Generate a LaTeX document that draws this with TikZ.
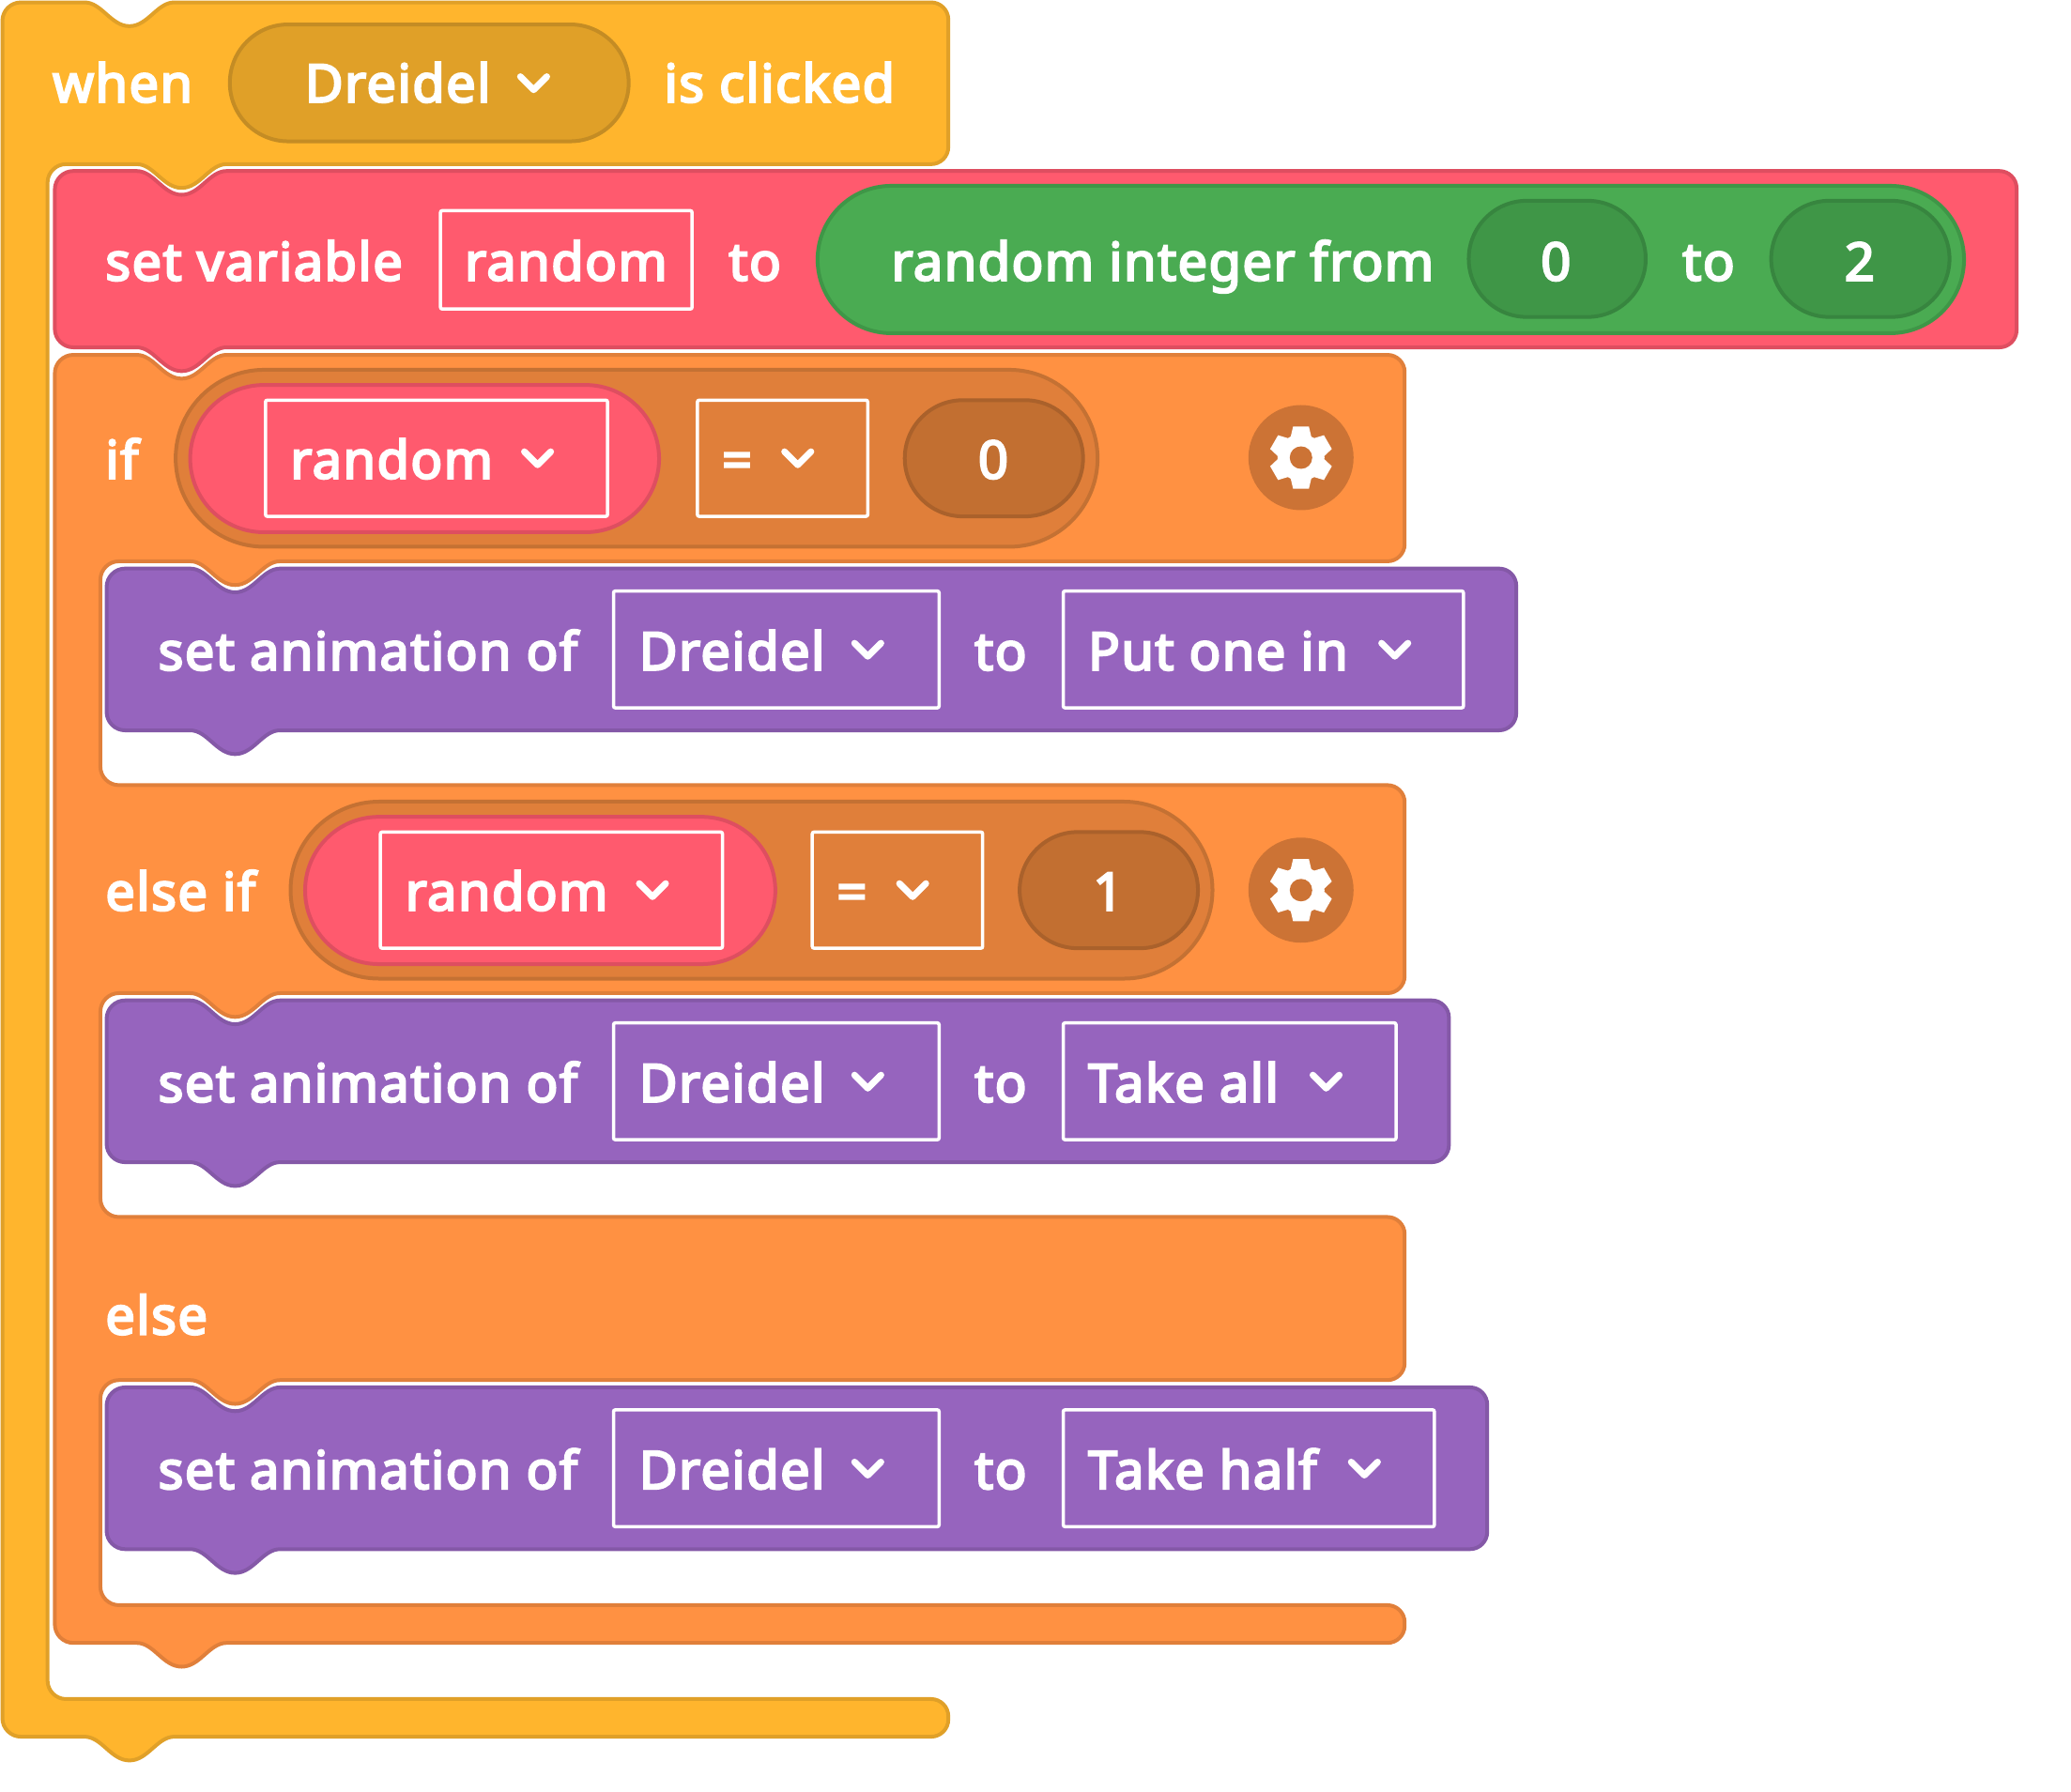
\documentclass[tikz,border=0pt]{standalone}
\usepackage{fontspec}
\setmainfont{Noto Sans}[FakeBold=4,LetterSpace=2.5]
\definecolor{yelF}{HTML}{FFB52D}\definecolor{yelS}{HTML}{E0A028}
\definecolor{yelD}{HTML}{E0A028}\definecolor{yelE}{HTML}{C48C24}
\definecolor{redF}{HTML}{FF5A6E}\definecolor{redS}{HTML}{DE4E60}
\definecolor{oraF}{HTML}{FF9142}\definecolor{oraS}{HTML}{E07F3A}
\definecolor{oraD}{HTML}{E07F3A}\definecolor{oraE}{HTML}{C47133}
\definecolor{oraG}{HTML}{C26F31}\definecolor{oraH}{HTML}{AA612B}
\definecolor{gearC}{HTML}{CC7335}
\definecolor{purF}{HTML}{9664BE}\definecolor{purS}{HTML}{8458A7}
\definecolor{greF}{HTML}{4AAB52}\definecolor{greS}{HTML}{3F9647}
\definecolor{greD}{HTML}{3F9647}\definecolor{greE}{HTML}{37853F}
\newcommand\nR[2]{-- (#1+34,#2) .. controls (#1+21,#2) and (#1+14,#2+18) .. (#1,#2+18) .. controls (#1-14,#2+18) and (#1-21,#2) .. (#1-34,#2)}
\newcommand\nL[2]{-- (#1-34,#2) .. controls (#1-21,#2) and (#1-14,#2+18) .. (#1,#2+18) .. controls (#1+14,#2+18) and (#1+21,#2) .. (#1+34,#2)}
\newcommand\Crn[7]{-- (#1+#3*#7,#2+#4*#7) .. controls (#1+0.45*#3*#7,#2+0.45*#4*#7) and (#1+0.45*#5*#7,#2+0.45*#6*#7) .. (#1+#5*#7,#2+#6*#7)}
\newcommand\cTL[2]{\Crn{#1}{#2}{0}{1}{1}{0}{14}}
\newcommand\cTR[2]{\Crn{#1}{#2}{-1}{0}{0}{1}{13}}
\newcommand\cBR[2]{\Crn{#1}{#2}{0}{-1}{-1}{0}{13}}
\newcommand\cBL[2]{\Crn{#1}{#2}{1}{0}{0}{-1}{14}}
\newcommand\cIT[2]{\Crn{#1}{#2}{1}{0}{0}{1}{14}}
\newcommand\cIB[2]{\Crn{#1}{#2}{0}{-1}{1}{0}{14}}
\newcommand\pill[6]{% x1 y1 x2 y2 fill stroke
  \pgfmathsetmacro\pr{(#4-#2)/2*1.4069}
  \draw[line width=4pt,fill=#5,draw=#6,rounded corners=\pr pt] (#1,#2) rectangle (#3,#4);}
\newcommand\chev[2]{\draw[white,line width=7pt,line cap=round,line join=round] (#1-10,#2-6) -- (#1,#2+4) -- (#1+10,#2-6);}
\newcommand\gear[2]{%
  \fill[gearC] (#1,#2) circle (56pt);
  \foreach \a in {0,60,120,180,240,300}{
    \fill[white,shift={(#1,#2)},rotate=\a] (-8,-15) -- (-6,-23.5) -- (6,-23.5) -- (8,-15) -- cycle;}
  \fill[white] (#1,#2) circle (25pt);
  \fill[gearC] (#1,#2) circle (12pt);}
\newcommand\purple[2]{% top, right
  \draw[blk,fill=purF,draw=purS] (80.7,#1+30) \cTL{80.7}{#1} \nL{178}{#1} \cTR{#2}{#1} \cBR{#2}{#1+122.5} \nR{178}{#1+122.5} \cBL{80.7}{#1+122.5} -- cycle;}
\tikzset{
  lab/.style={anchor=base west,text=white,inner sep=0pt,xshift=-0.4pt,yshift=1pt,font=\fontsize{56}{60}\selectfont},
  cen/.style={anchor=base,text=white,inner sep=0pt,yshift=1pt,font=\fontsize{56}{60}\selectfont},
  blk/.style={line width=4pt,line join=round},
  fieldbox/.style={draw=white,line width=3.5pt,rounded corners=2pt},
}
\begin{document}
\begin{tikzpicture}[x=1.4069pt,y=-1.4069pt]
\useasboundingbox (0,0) rectangle (1568,1356.2);
% yellow
\draw[blk,fill=yelF,draw=yelS] (1.8,60) \cTL{1.8}{1.8} \nL{98}{1.8} \cTR{718}{1.8} \cBR{718}{124.3} \nR{137.5}{124.3} \cIT{36}{124.3} \cIB{36}{1286.5} \cTR{718}{1286.5} \cBR{718}{1315} \nR{98}{1315} \cBL{1.8}{1315} -- cycle;
\pill{174}{18.5}{476}{107}{yelD}{yelE}
\node[lab] (when) at (40,78) {when};
\node[lab] (dre0) at (231,78) {Dreidel};
\chev{404}{64}
\node[lab] (clicked) at (503,78) {is clicked};
% orange
\draw[blk,fill=oraF,draw=oraS] (41.5,300) \cTL{41.5}{268.7} \nL{137.5}{268.7} \cTR{1063.5}{268.7} \cBR{1063.5}{425} \nR{178}{425} \cIT{76}{425} \cIB{76}{594.5} \cTR{1063.5}{594.5} \cBR{1063.5}{752} \nR{178}{752} \cIT{76}{752} \cIB{76}{921.5} \cTR{1063.5}{921.5} \cBR{1063.5}{1045} \nR{178}{1045} \cIT{76}{1045} \cIB{76}{1215.4} \cTR{1063.5}{1215.4} \cBR{1063.5}{1244} \nR{137.5}{1244} \cBL{41.5}{1244} -- cycle;
% red
\draw[blk,fill=redF,draw=redS] (41.5,160) \cTL{41.5}{129.5} \nL{137.5}{129.5} \cTR{1526.8}{129.5} \cBR{1526.8}{263} \nR{137.5}{263} \cBL{41.5}{263} -- cycle;
\node[lab] (setv) at (80,213) {set variable};
\draw[fieldbox] (333.5,159.5) rectangle (524,234);
\node[lab] (rnd0) at (352,213) {random};
\node[lab] (to0) at (552,213) {to};
\pill{619}{140.7}{1487}{252.3}{greF}{greS}
\node[lab] (rif) at (675,213) {random integer from};
\pill{1112}{152}{1246}{240}{greD}{greE}
\node[cen] (n0) at (1178,213) {0};
\node[lab] (to1) at (1274,213) {to};
\pill{1341}{152}{1476}{240}{greD}{greE}
\node[cen] (n2) at (1408,213) {2};
% if
\node[lab] (if) at (80,363) {if};
\pill{133}{280}{831}{414}{oraD}{oraE}
\pill{144}{291.5}{499}{403}{redF}{redS}
\draw[fieldbox] (201,303) rectangle (460,391);
\node[lab] (rnd1) at (220,363) {random};
\chev{407}{348}
\draw[fieldbox] (528,303) rectangle (657,391);
\node[cen] (eq1) at (558,363) {=};
\chev{604}{348}
\pill{685}{303}{820}{391}{oraG}{oraH}
\node[cen] (n3) at (752,363) {0};
\gear{985}{346.5}
% else if
\node[lab] (elif) at (80,690) {else if};
\pill{220}{607}{918}{741}{oraD}{oraE}
\pill{231}{618.5}{587}{730}{redF}{redS}
\draw[fieldbox] (288,630) rectangle (547,718);
\node[lab] (rnd2) at (307,690) {random};
\chev{494}{675}
\draw[fieldbox] (615,630) rectangle (744,718);
\node[cen] (eq2) at (645,690) {=};
\chev{691}{675}
\pill{772}{630}{907}{718}{oraG}{oraH}
\node[cen] (n4) at (839,690) {1};
\gear{985}{674}
% else
\node[lab] (else) at (80,1011) {else};
% purple 1
\purple{430.5}{1148}
\node[lab] (sa1) at (120,508) {set animation of};
\draw[fieldbox] (464.5,447.5) rectangle (711,536);
\node[lab] (d1) at (484,508) {Dreidel};
\chev{657}{493}
\node[lab] (t1) at (738,508) {to};
\draw[fieldbox] (805,447.5) rectangle (1108,536);
\node[lab] (v1) at (824,508) {Put one in};
\chev{1056}{493}
% purple 2
\purple{757.5}{1097}
\node[lab] (sa2) at (120,835) {set animation of};
\draw[fieldbox] (464.5,774.5) rectangle (711,863);
\node[lab] (d2) at (484,835) {Dreidel};
\chev{657}{820}
\node[lab] (t2) at (738,835) {to};
\draw[fieldbox] (805,774.5) rectangle (1057,863);
\node[lab] (v2) at (824,835) {Take all};
\chev{1004}{820}
% purple 3
\purple{1050.5}{1126}
\node[lab] (sa3) at (120,1128) {set animation of};
\draw[fieldbox] (464.5,1067.5) rectangle (711,1156);
\node[lab] (d3) at (484,1128) {Dreidel};
\chev{657}{1113}
\node[lab] (t3) at (738,1128) {to};
\draw[fieldbox] (805,1067.5) rectangle (1086,1156);
\node[lab] (v3) at (824,1128) {Take half};
\chev{1033}{1113}
\end{tikzpicture}
\end{document}
